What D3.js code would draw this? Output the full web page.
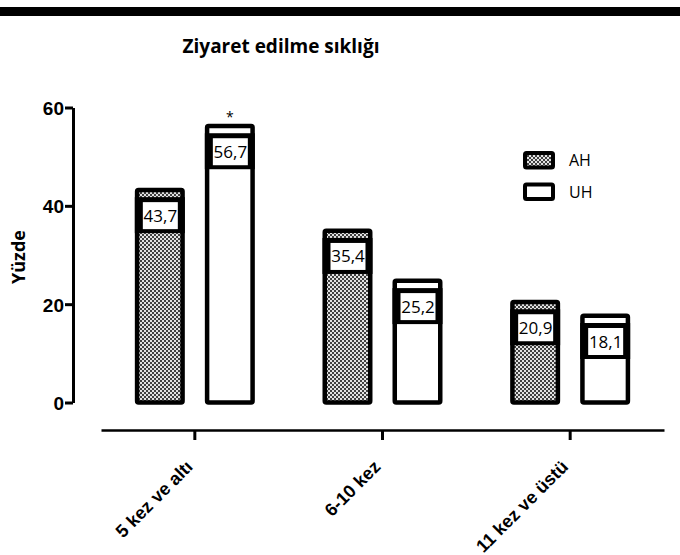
<!DOCTYPE html>
<html>
<head>
<meta charset="utf-8">
<script src="https://cdnjs.cloudflare.com/ajax/libs/d3/7.8.5/d3.min.js"></script>
<style>
  body { margin: 0; background: #fff; }
  svg { display: block; font-family: "Open Sans", "Noto Sans", sans-serif; }
</style>
</head>
<body>
<svg id="canvas"></svg>
<script>
// Chart data
const categories = ["5 kez ve altı", "6-10 kez", "11 kez ve üstü"];
const seriesNames = ["AH", "UH"];
const ahValues = [43.7, 35.4, 20.9];
const uhValues = [56.7, 25.2, 18.1];
const valueLabels = { AH: ["43,7", "35,4", "20,9"], UH: ["56,7", "25,2", "18,1"] };
const starred = [{ cat: "5 kez ve altı", series: "UH" }];
const yTicks = [0, 20, 40, 60];

const plotGraph = (svgElemId) => {
   const svgWidth = 680;
   const svgHeight = 555;
   const barStroke = 4.5;

   const svg = d3.select(svgElemId)
                 .attr("width", svgWidth)
                 .attr("height", svgHeight);

   // pattern for the AH bars (fine checker)
   const pat = svg.append("defs").append("pattern")
                  .attr("id", "checker")
                  .attr("patternUnits", "userSpaceOnUse")
                  .attr("width", 4)
                  .attr("height", 4);
   pat.append("rect").attr("width", 4).attr("height", 4).attr("fill", "#e2e2e2");
   pat.append("rect").attr("width", 2).attr("height", 2).attr("fill", "#404040");
   pat.append("rect").attr("x", 2).attr("y", 2).attr("width", 2).attr("height", 2).attr("fill", "#404040");

   // thick black band at the top of the figure
   svg.append("rect")
      .attr("x", 0).attr("y", 7)
      .attr("width", svgWidth).attr("height", 9)
      .attr("fill", "#000");

   // title
   svg.append("text")
      .attr("x", 281).attr("y", 53)
      .attr("text-anchor", "middle")
      .style("font-weight", "bold")
      .style("font-size", "19px")
      .text("Ziyaret edilme sıklığı");

   // scales
   const x = d3.scaleBand().domain(categories).range([101, 664]).padding(0);
   const xs = d3.scaleBand().domain(seriesNames).range([-60, 60]).paddingInner(0.286);
   const y = d3.scaleLinear().domain([0, 60]).range([402.5, 107.5]);

   // y axis
   const gY = svg.append("g")
                 .attr("transform", "translate(73,0)")
                 .call(d3.axisLeft(y).tickValues(yTicks).tickSize(8).tickSizeOuter(0).tickPadding(1));
   gY.selectAll("path, line").attr("stroke", "#000").attr("stroke-width", 3);
   gY.selectAll("text")
     .attr("fill", "#000")
     .style("font-size", "19px")
     .style("font-weight", "bold")
     .attr("dy", "0.36em");

   svg.append("text")
      .attr("transform", "translate(25,257) rotate(-90)")
      .attr("text-anchor", "middle")
      .style("font-weight", "bold")
      .style("font-size", "18px")
      .text("Yüzde");

   // x axis
   const gX = svg.append("g")
                 .attr("transform", "translate(0,430)")
                 .call(d3.axisBottom(x).tickSize(10).tickSizeOuter(0));
   gX.selectAll("path, line").attr("stroke", "#000").attr("stroke-width", 3);
   gX.select(".domain").attr("stroke-width", 2.5);
   gX.selectAll("text")
     .attr("fill", "#000")
     .attr("text-anchor", "end")
     .attr("y", 0).attr("dy", 0)
     .attr("transform", "translate(-1,38) rotate(-45)")
     .style("font-size", "18px")
     .style("font-weight", "bold");

   // flatten into rows
   const rows = [];
   categories.forEach((c, i) => {
      rows.push({ cat: c, series: "AH", value: ahValues[i], label: valueLabels.AH[i] });
      rows.push({ cat: c, series: "UH", value: uhValues[i], label: valueLabels.UH[i] });
   });
   const barLeft = (d) => x(d.cat) + x.bandwidth() / 2 + xs(d.series);

   // bars
   svg.selectAll(".bar")
      .data(rows)
      .enter()
      .append("rect")
      .attr("class", "bar")
      .attr("x", (d) => barLeft(d) + barStroke / 2)
      .attr("y", (d) => y(d.value) + barStroke / 2)
      .attr("width", xs.bandwidth() - barStroke)
      .attr("height", (d) => y(0) - y(d.value) - barStroke / 2)
      .attr("rx", 1.5)
      .attr("fill", (d) => d.series === "AH" ? "url(#checker)" : "#fff")
      .attr("stroke", "#000")
      .attr("stroke-width", barStroke);

   // value label boxes
   const lab = svg.selectAll(".lab")
                  .data(rows)
                  .enter()
                  .append("g")
                  .attr("class", "lab")
                  .attr("transform", (d) => `translate(${barLeft(d)},${y(d.value) + 9.5})`);
   lab.append("rect")
      .attr("width", xs.bandwidth()).attr("height", 36)
      .attr("fill", "#000");
   lab.append("rect")
      .attr("x", 8).attr("y", 5)
      .attr("width", xs.bandwidth() - 15).attr("height", 27)
      .attr("fill", "#fff");
   lab.append("text")
      .attr("x", 8 + (xs.bandwidth() - 15) / 2)
      .attr("y", 24.5)
      .attr("text-anchor", "middle")
      .style("font-size", "17px")
      .text((d) => d.label);

   // significance mark
   svg.selectAll(".star")
      .data(starred)
      .enter()
      .append("text")
      .attr("class", "star")
      .attr("x", (d) => x(d.cat) + x.bandwidth() / 2 + xs(d.series) + xs.bandwidth() / 2)
      .attr("y", (d) => y(uhValues[categories.indexOf(d.cat)]) - 2)
      .attr("text-anchor", "middle")
      .style("font-size", "14px")
      .text("*");

   // legend
   const legend = svg.append("g").attr("transform", "translate(523,151)");
   seriesNames.forEach((s, i) => {
      legend.append("rect")
            .attr("x", 2).attr("y", i * 31.5 + 2)
            .attr("width", 28).attr("height", 14.5)
            .attr("rx", 1.5)
            .attr("fill", s === "AH" ? "url(#checker)" : "#fff")
            .attr("stroke", "#000")
            .attr("stroke-width", 4);
      legend.append("text")
            .attr("x", 46).attr("y", i * 31.5 + 15)
            .style("font-size", "16px")
            .text(s);
   });
};

plotGraph("#canvas");
</script>
</body>
</html>
